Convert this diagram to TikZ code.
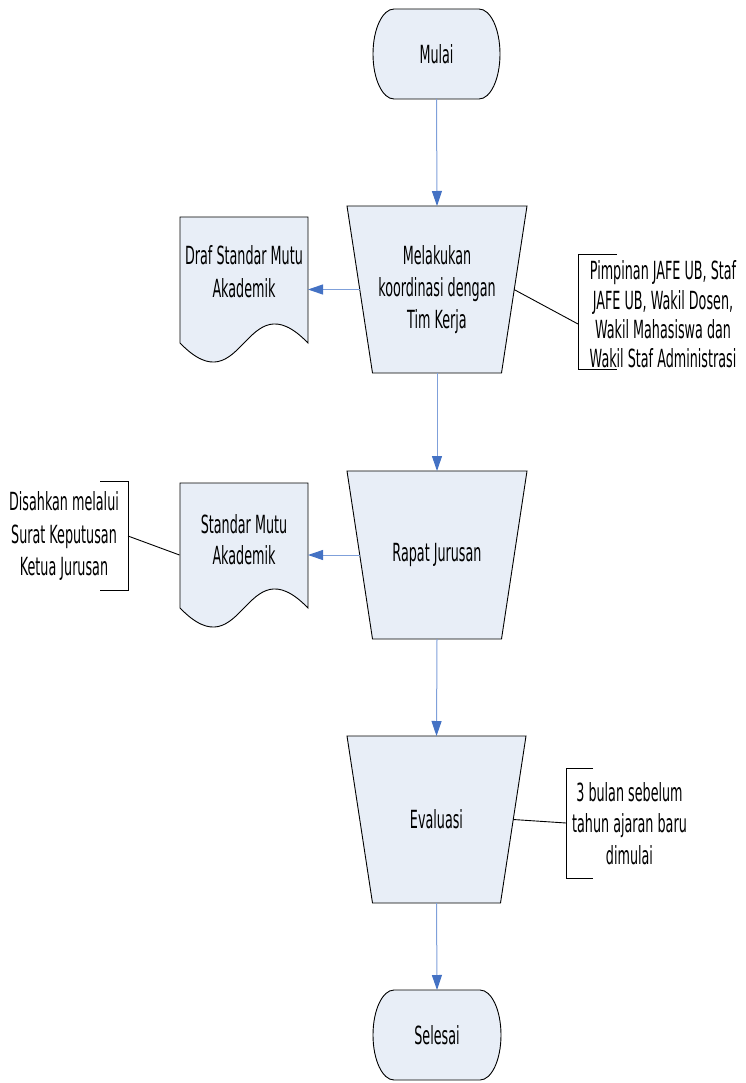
\documentclass[tikz,border=0pt]{standalone}
\usepackage{fontspec}
\setmainfont{DejaVu Sans}[FakeStretch=0.51]
\usetikzlibrary{arrows.meta}
\definecolor{shapefill}{HTML}{E8EEF7}
\definecolor{arrowblue}{HTML}{4472C4}
\definecolor{arrowline}{HTML}{7FA0DA}
\pgfdeclarelayer{background}
\pgfsetlayers{background,main}
\begin{document}
\begin{tikzpicture}[x=1pt,y=1pt,
  frame/.style={draw=none,inner sep=0pt,outer sep=0pt},
  txt/.style={align=center,inner sep=0pt,font=\fontsize{25}{32}\selectfont},
  shapeline/.style={draw=black,line width=0.9pt,fill=shapefill},
  flow/.style={draw=arrowline,line width=1pt,-{Triangle[length=15pt,width=10pt,fill=arrowblue,color=arrowblue]}},
  note/.style={draw=black,line width=0.9pt}]
\useasboundingbox (0,0) rectangle (745,-1083);
% frames
\node[frame,minimum width=127pt,minimum height=90pt] (m) at (436.5,-54) {};
\node[frame,minimum width=180pt,minimum height=167pt] (t1) at (437,-289.5) {};
\node[frame,minimum width=180pt,minimum height=168pt] (t2) at (437,-555) {};
\node[frame,minimum width=179pt,minimum height=167pt] (t3) at (436.5,-819.5) {};
\node[frame,minimum width=128pt,minimum height=90pt] (s) at (437,-1035) {};
\node[frame,minimum width=128pt,minimum height=126pt] (d1) at (244,-280) {};
\node[frame,minimum width=128pt,minimum height=125pt] (d2) at (244,-545.5) {};
% texts
\node[txt] (mt) at (m.center) {Mulai};
\node[txt] (st) at (s.center) {Selesai};
\node[txt] (t1t) at (t1.center) {Melakukan\\koordinasi dengan\\Tim Kerja};
\node[txt] (t2t) at (t2.center) {Rapat Jurusan};
\node[txt] (t3t) at (t3.center) {Evaluasi};
\node[txt,font=\fontsize{25}{33}\selectfont] (d1t) at (244,-271.5) {Draf Standar Mutu\\Akademik};
\node[txt,font=\fontsize{25}{31}\selectfont] (d2t) at (244,-540) {Standar Mutu\\Akademik};
\node[txt,font=\fontsize{25}{29.3}\selectfont] (n1) at (663,-314.5) {Pimpinan JAFE UB, Staf\\JAFE UB, Wakil Dosen,\\Wakil Mahasiswa dan\\Wakil Staf Administrasi};
\node[txt,font=\fontsize{25}{32.5}\selectfont] (n2) at (64,-536) {Disahkan melalui\\Surat Keputusan\\Ketua Jurusan};
\node[txt,font=\fontsize{25}{31.5}\selectfont] (n3) at (629.5,-823.5) {3 bulan sebelum\\tahun ajaran baru\\dimulai};
% connector end points
\coordinate (t1l) at ([xshift=13pt]t1.west);
\coordinate (t1r) at ([xshift=-13pt]t1.east);
\coordinate (t2l) at ([xshift=13pt]t2.west);
\coordinate (t3r) at ([xshift=-12.75pt]t3.east);
\coordinate (b1) at (578,-324);
\coordinate (b2) at (128,-536);
\coordinate (b3) at (566,-823);
\coordinate (d2l) at (179.5,-555);
% shapes
\begin{pgfonlayer}{background}
\path[shapeline] ([xshift=21pt]m.north west) -- ([xshift=-21pt]m.north east)
  arc[start angle=90,end angle=-90,x radius=21pt,y radius=45pt]
  -- ([xshift=21pt]m.south west)
  arc[start angle=270,end angle=90,x radius=21pt,y radius=45pt] -- cycle;
\path[shapeline] ([xshift=21pt]s.north west) -- ([xshift=-21pt]s.north east)
  arc[start angle=90,end angle=-90,x radius=21pt,y radius=45pt]
  -- ([xshift=21pt]s.south west)
  arc[start angle=270,end angle=90,x radius=21pt,y radius=45pt] -- cycle;
\foreach \t in {t1,t2,t3}{
  \path[shapeline] (\t.north west) -- (\t.north east)
    -- ([xshift=-25.5pt]\t.south east) -- ([xshift=25.5pt]\t.south west) -- cycle;
}
\foreach \d in {d1,d2}{
  \path[shapeline] (\d.north west) -- (\d.north east) -- (\d.south east)
    .. controls ([yshift=66pt]\d.south) and ([yshift=-66pt]\d.south) .. (\d.south west) -- cycle;
}
\end{pgfonlayer}
% annotation brackets
\draw[note] (617,-254) -- (578,-254) -- (578,-369) -- (617,-369);
\draw[note] (100,-481) -- (128,-481) -- (128,-590) -- (100,-590);
\draw[note] (593,-768) -- (566,-768) -- (566,-878) -- (593,-878);
\draw[note] (t1r) -- (b1);
\draw[note] (b2) -- (d2l);
\draw[note] (t3r) -- (b3);
% flow arrows
\draw[flow] (m.south) -- (t1.north);
\draw[flow] (t1l) -- (d1.east |- t1l);
\draw[flow] (t1.south) -- (t2.north);
\draw[flow] (t2l) -- (d2.east |- t2l);
\draw[flow] (t2.south) -- (t3.north);
\draw[flow] (t3.south) -- (s.north);
\end{tikzpicture}
\end{document}
